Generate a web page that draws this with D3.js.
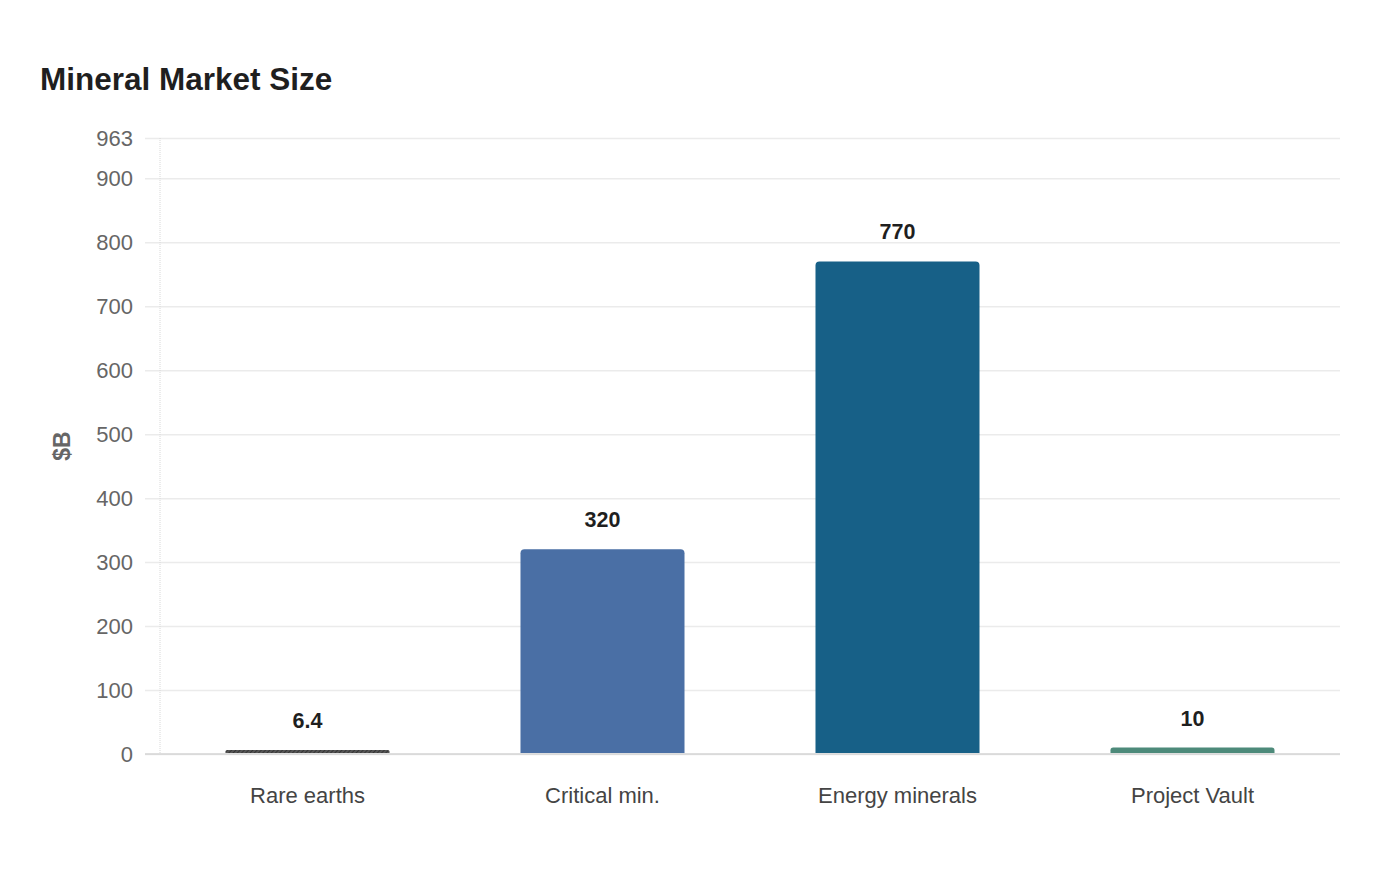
<!DOCTYPE html>
<html>
<head>
<meta charset="utf-8">
<script src="https://cdn.jsdelivr.net/npm/d3@7"></script>
<style>
  body { margin: 0; background: #fff; font-family: "Liberation Sans", Arial, sans-serif; }
</style>
</head>
<body>
<div id="chart"></div>
<script>
const categories = ["Rare earths", "Critical min.", "Energy minerals", "Project Vault"];
const values = [6.4, 320, 770, 10];
const valueLabels = ["6.4", "320", "770", "10"];
const barColors = ["#3b3b3b", "#4a6fa5", "#176087", "#4d8a7a"];
const yTicks = [0, 100, 200, 300, 400, 500, 600, 700, 800, 900, 963];
const yMax = 963;

const W = 1400, H = 880;
const margin = { top: 138, right: 60, bottom: 126, left: 160 },
      width = W - margin.left - margin.right,
      height = H - margin.top - margin.bottom;

const svg = d3.select("#chart").append("svg")
    .attr("width", W)
    .attr("height", H);

// hatch for the first bar
const defs = svg.append("defs");
const pat = defs.append("pattern")
    .attr("id", "hatch")
    .attr("patternUnits", "userSpaceOnUse")
    .attr("width", 3).attr("height", 3)
    .attr("patternTransform", "rotate(45)");
pat.append("rect").attr("width", 3).attr("height", 3).attr("fill", "#555");
pat.append("line").attr("x1", 0).attr("y1", 0).attr("x2", 0).attr("y2", 3)
    .attr("stroke", "#2a2a2a").attr("stroke-width", 1.5);

svg.append("text")
    .attr("x", 40).attr("y", 90)
    .attr("font-size", 31.5).attr("font-weight", "bold")
    .attr("fill", "#1f1f1f")
    .text("Mineral Market Size");

const g = svg.append("g")
    .attr("transform", `translate(${margin.left},${margin.top})`);

const x = d3.scaleBand()
    .domain(categories)
    .range([0, width])
    .paddingInner(0.444)
    .paddingOuter(0.222);

const y = d3.scaleLinear()
    .domain([0, yMax])
    .range([height, 0]);

// grid + y labels
const yAxis = d3.axisLeft(y)
    .tickValues(yTicks)
    .tickSize(-width - 15)
    .tickPadding(12)
    .tickFormat(d3.format("d"));

const yg = g.append("g")
    .call(yAxis);
yg.select(".domain").remove();
yg.selectAll(".tick line")
    .attr("x1", -15).attr("x2", width)
    .attr("stroke", "#ebebeb").attr("stroke-width", 1.5);
yg.selectAll(".tick text")
    .attr("x", -27)
    .attr("font-family", "Liberation Sans, Arial, sans-serif")
    .attr("font-size", 22).attr("fill", "#666");

// vertical axis line
g.append("line")
    .attr("x1", 0).attr("x2", 0)
    .attr("y1", 0).attr("y2", height)
    .attr("stroke", "#d8d8d8").attr("stroke-dasharray", "1,1");

// baseline
g.append("line")
    .attr("x1", -15).attr("x2", width)
    .attr("y1", height).attr("y2", height)
    .attr("stroke", "#d4d4d4").attr("stroke-width", 1.5);

// bars with rounded tops
function barPath(d, i) {
    const x0 = x(categories[i]), bw = x.bandwidth();
    const y0 = y(d), yb = y(0) - 1;
    const r = Math.min(4, (yb - y0) / 2);
    return `M${x0},${yb}V${y0 + r}Q${x0},${y0} ${x0 + r},${y0}H${x0 + bw - r}Q${x0 + bw},${y0} ${x0 + bw},${y0 + r}V${yb}Z`;
}

g.selectAll(".bar")
    .data(values)
    .join("path")
    .attr("class", "bar")
    .attr("d", barPath)
    .attr("fill", (d, i) => i === 0 ? "url(#hatch)" : barColors[i]);

g.selectAll(".val")
    .data(values)
    .join("text")
    .attr("class", "val")
    .attr("x", (d, i) => x(categories[i]) + x.bandwidth() / 2)
    .attr("y", d => y(d) - 22)
    .attr("text-anchor", "middle")
    .attr("font-size", 21.5).attr("font-weight", "bold")
    .attr("fill", "#1f1f1f")
    .text((d, i) => valueLabels[i]);

// x labels
const xAxis = d3.axisBottom(x).tickSize(0).tickPadding(33);
const xg = g.append("g")
    .attr("transform", `translate(0,${height})`)
    .call(xAxis);
xg.select(".domain").remove();
xg.selectAll(".tick text")
    .attr("font-family", "Liberation Sans, Arial, sans-serif")
    .attr("font-size", 22).attr("fill", "#444");

// y title
svg.append("text")
    .attr("transform", `translate(70,${margin.top + height / 2}) rotate(-90)`)
    .attr("text-anchor", "middle")
    .attr("font-size", 23).attr("font-weight", "bold")
    .attr("fill", "#666")
    .text("$B");
</script>
</body>
</html>
